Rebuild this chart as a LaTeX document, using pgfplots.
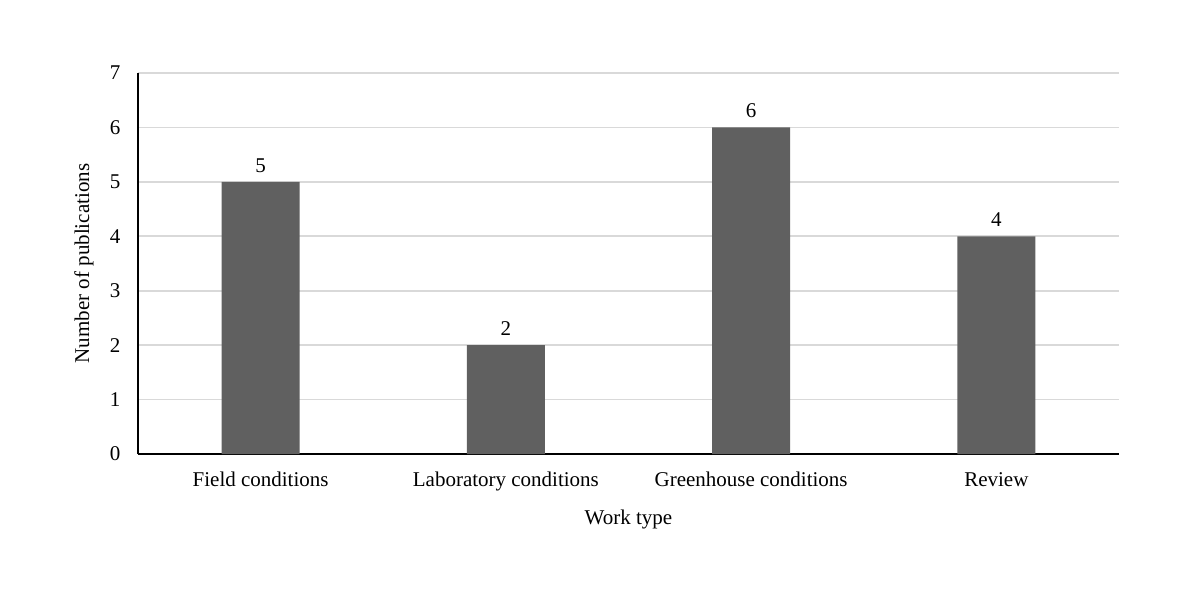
\documentclass[border=0pt]{standalone}
\usepackage{fontspec}
\setmainfont{Liberation Serif}
\usepackage{pgfplots}
\pgfplotsset{compat=1.18}
\definecolor{barc}{HTML}{606060}
\definecolor{gridc}{HTML}{D9D9D9}
\newcommand\ff{\fontsize{21}{25}\selectfont}
\begin{document}
\begin{tikzpicture}[x=1pt,y=1pt]
\useasboundingbox (0,0) rectangle (1198,595);
\begin{axis}[
  at={(138pt,141pt)}, anchor=south west,
  width=981pt, height=381pt, scale only axis,
  /pgf/number format/assume math mode=true,
  ybar, bar width=78pt,
  xmin=-0.5, xmax=3.5, ymin=0, ymax=7,
  xtick={0,1,2,3},
  xticklabels={Field conditions,Laboratory conditions,Greenhouse conditions,Review},
  ytick={0,1,2,3,4,5,6,7},
  major tick length=0pt,
  axis lines*=left,
  axis line style={line width=1.6pt, -},
  ymajorgrids, grid style={gridc, line width=1.6pt},
  xticklabel style={font=\ff, text height=14.5pt, text depth=4.5pt, yshift=-14pt},
  yticklabel style={font=\ff, xshift=-14pt},
  xlabel={Work type}, ylabel={Number of publications},
  xlabel style={font=\ff, at={(axis description cs:0.5,-0.171)}, anchor=center},
  ylabel style={font=\ff, at={(axis description cs:-0.0551,0.5)}, anchor=center, rotate=0},
  nodes near coords,
  every node near coord/.append style={font=\ff, yshift=6pt, text=black},
  tick label style={text=black},
]
\addplot[fill=barc, draw=none] coordinates {(0,5) (1,2) (2,6) (3,4)};
\end{axis}
\end{tikzpicture}
\end{document}
